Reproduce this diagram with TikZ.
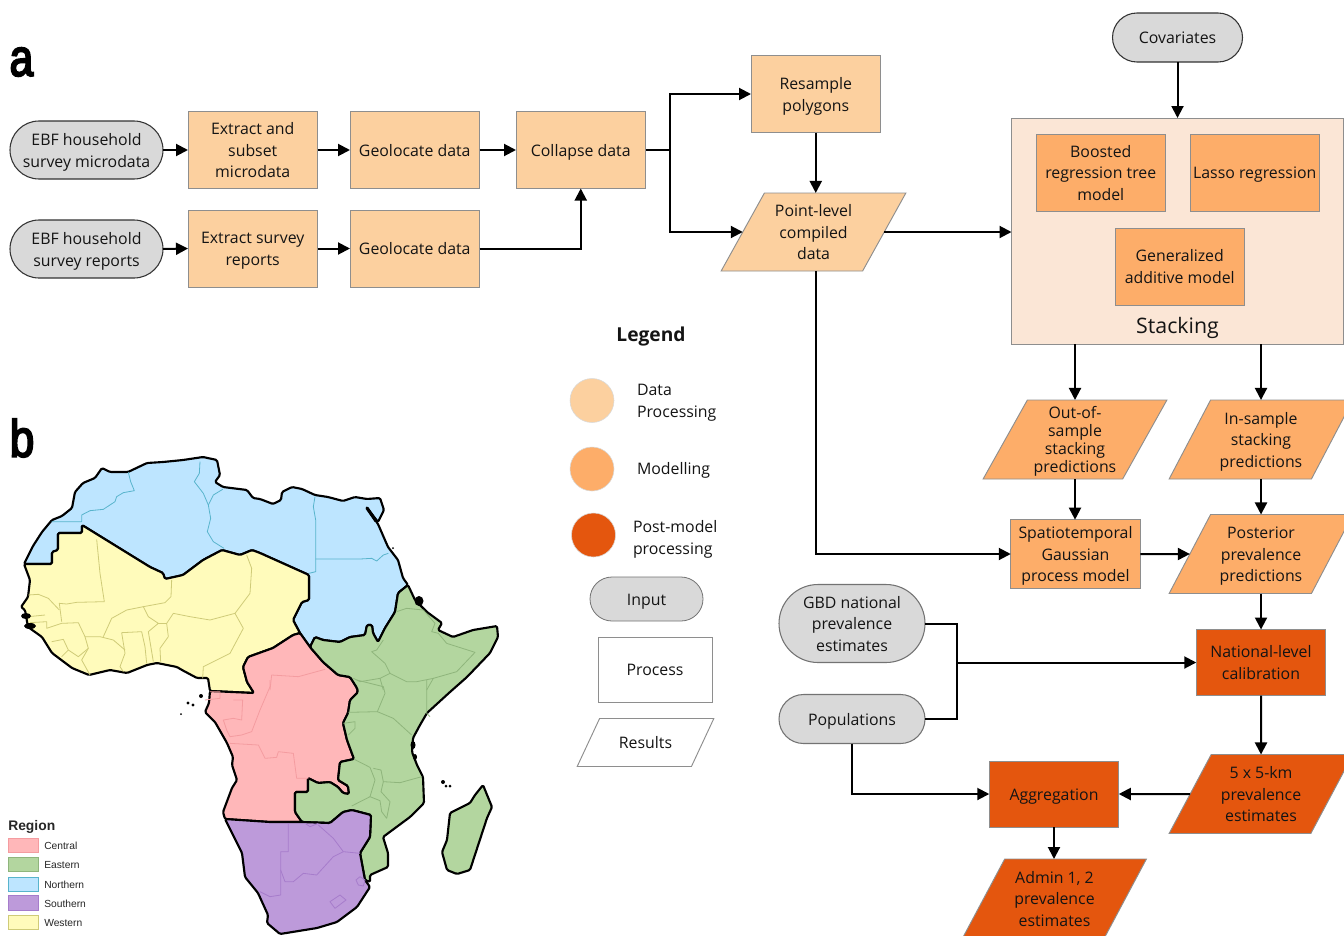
\documentclass[tikz,border=0pt]{standalone}
\usepackage{fontspec}
\setmainfont{Open Sans}
\newfontfamily\mapfont{Liberation Sans}
\newfontfamily\heavyfont[FakeBold=4]{Liberation Sans}
\usetikzlibrary{arrows.meta,shapes.geometric,shapes.misc,calc}
\definecolor{dataC}{HTML}{FCD09F}
\definecolor{modelC}{HTML}{FDAD69}
\definecolor{postC}{HTML}{E4560E}
\definecolor{stackC}{HTML}{FBE6D6}
\definecolor{pillC}{HTML}{D9D9D9}
\definecolor{edgeC}{HTML}{8E8E8E}
\definecolor{inkC}{HTML}{141414}
\definecolor{blueR}{HTML}{BDE5FF}
\definecolor{yellowR}{HTML}{FFFBBB}
\definecolor{pinkR}{HTML}{FFB7B9}
\definecolor{greenR}{HTML}{B3D69F}
\definecolor{purpleR}{HTML}{BD9ADA}
\definecolor{blueB}{HTML}{58B4CC}
\definecolor{yellowB}{HTML}{CFCB78}
\definecolor{pinkB}{HTML}{F49CA0}
\definecolor{greenB}{HTML}{8FB57C}
\definecolor{purpleB}{HTML}{A67CCB}
\newcommand\mainsz{\fontsize{11.9}{16.2}\selectfont}
\newcommand\tightsz{\fontsize{11.9}{13.5}\selectfont}
\newcommand\topstrut{\rule{0pt}{\dimexpr.9\baselineskip\relax}}
\newcommand\tline{\rule{0pt}{14.2pt}}
\newcommand\bline{\rule[-4.9pt]{0pt}{4.9pt}}
\tikzset{
  wh/.style 2 args={minimum width=#1*0.75pt,minimum height=#2*0.75pt},
  base/.style={inner sep=0pt,outer sep=0pt,align=center,font=\mainsz,text=inkC,execute at begin node=\topstrut,execute at end node=\strut},
  procbox/.style={base,rectangle,draw=edgeC,line width=0.7pt},
  pill/.style={base,rounded rectangle,draw=black!80,fill=pillC,line width=0.8pt},
  resbox/.style={base,trapezium,trapezium stretches=true,trapezium left angle=63.7,trapezium right angle=116.3,draw=edgeC,line width=0.7pt},
  legdot/.style={circle,inner sep=0pt,minimum size=33pt,draw=black!15,line width=0.4pt},
  flow/.style={-{Triangle[length=9pt,width=9pt]},line width=1.5pt,black},
  plain/.style={line width=1.5pt,black},
  coast/.style={draw=black,line width=1.6pt,line join=round,rounded corners=1pt},
  bordr/.style={line width=0.6pt,line join=round},
  dot/.style={fill=black,draw=none},
  keybox/.style={rectangle,inner sep=0pt,minimum width=22pt,minimum height=11pt,line width=0.9pt},
  keytxt/.style={font=\mapfont\fontsize{7.7}{9}\selectfont,anchor=west,inner sep=0pt,text=black!85},
}
\begin{document}
\begin{tikzpicture}[x=0.75pt,y=-0.75pt]
\useasboundingbox (0,0) rectangle (1344,935);
\fill[white] (0,0) rectangle (1344,935);

% --- panel letters
\node[font=\heavyfont\fontsize{39}{39}\selectfont,xscale=0.82,anchor=center,inner sep=0pt] (la) at (21.5,62) {a};
\node[font=\heavyfont\fontsize{39}{39}\selectfont,xscale=0.85,anchor=center,inner sep=0pt] (lb) at (22,438) {b};

% --- map fills and coasts
\path[coast,fill=blueR] (24,564)--(33,546)--(42,532)--(52,520)--(62,516)--(72,508)--(75,492)--(83,483)--(95,478)--(102,468)--(110,472)--(128,472)--(147,463)--(163,462)--(183,460)--(203,457)--(217,460)--(220,475)--(215,482)--(223,487)--(247,490)--(253,498)--(260,499)--(273,504)--(281,500)--(282,492)--(292,487)--(302,489)--(315,495)--(328,497)--(343,501)--(355,497)--(367,499)--(380,498)--(384,510)--(378,522)--(367,508)--(378,524)--(388,547)--(398,560)--(403,578)--(408,585)--(398,593)--(395,612)--(385,628)--(378,642)--(373,633)--(372,625)--(367,625)--(365,635)--(350,637)--(340,642)--(323,640)--(315,637)--(310,647)--(300,633)--(293,620)--(302,602)--(309,600)--(309,575)--(260,553)--(252,550)--(240,555)--(222,550)--(203,560)--(183,575)--(165,579)--(163,573)--(150,567)--(82,525)--(82,533)--(58,533)--(58,550)--(52,552)--(52,564)--cycle;
\path[coast,fill=yellowR] (24,564)--(52,564)--(52,552)--(58,550)--(58,533)--(82,533)--(82,525)--(150,567)--(163,573)--(165,579)--(183,575)--(203,560)--(222,550)--(240,555)--(252,550)--(260,553)--(309,575)--(309,600)--(302,602)--(293,620)--(300,633)--(293,635)--(273,648)--(248,657)--(243,667)--(247,682)--(254,693)--(210,691)--(208,678)--(197,678)--(182,670)--(177,667)--(157,663)--(147,665)--(127,673)--(110,670)--(89,675)--(72,668)--(52,653)--(42,637)--(28,627)--(25,610)--(21,607)--(28,597)--(30,580)--cycle;
\path[coast,fill=pinkR] (210,691)--(254,693)--(247,682)--(243,667)--(248,657)--(273,648)--(293,635)--(300,633)--(310,647)--(323,662)--(338,675)--(350,677)--(357,688)--(358,692)--(350,700)--(348,713)--(343,723)--(347,740)--(354,759)--(340,762)--(338,780)--(348,786)--(349,794)--(343,793)--(338,787)--(330,782)--(318,783)--(308,778)--(308,792)--(295,792)--(295,812)--(302,822)--(270,822)--(225,819)--(223,812)--(232,788)--(237,780)--(232,765)--(233,757)--(227,743)--(215,722)--(205,712)--(209,703)--cycle;
\path[coast,fill=greenR] (408,585)--(415,600)--(427,612)--(442,623)--(438,630)--(453,637)--(473,630)--(497,626)--(498,637)--(490,653)--(467,677)--(450,692)--(427,713)--(420,725)--(413,738)--(412,752)--(417,765)--(423,777)--(424,803)--(410,817)--(383,837)--(388,853)--(388,867)--(370,875)--(370,882)--(365,880)--(360,853)--(370,837)--(371,815)--(352,810)--(343,812)--(330,823)--(302,822)--(295,812)--(295,792)--(308,792)--(308,778)--(318,783)--(330,782)--(338,787)--(343,793)--(349,794)--(348,786)--(338,780)--(340,762)--(354,759)--(347,740)--(343,723)--(348,713)--(350,700)--(358,692)--(357,688)--(350,677)--(338,675)--(323,662)--(310,647)--(315,637)--(323,640)--(340,642)--(350,637)--(365,635)--(367,625)--(372,625)--(373,633)--(378,642)--(385,628)--(395,612)--(398,593)--cycle;
\path[coast,fill=purpleR] (225,819)--(270,822)--(302,822)--(330,823)--(343,812)--(352,810)--(371,815)--(370,837)--(360,853)--(365,880)--(370,887)--(357,907)--(337,922)--(317,928)--(280,934)--(267,923)--(268,915)--(258,893)--(245,877)--(242,853)--(232,833)--cycle;
\path[coast,fill=greenR] (483,785)--(492,807)--(487,818)--(470,870)--(457,874)--(447,870)--(442,852)--(447,840)--(450,813)--(470,803)--(475,795)--cycle;
\draw[line width=2.4pt,line cap=round] (367,508)--(376,521);

% --- internal borders (coordinates read from magnified views)
\begin{scope}[shift={(0,440)},x=0.25pt,y=-0.25pt]
\draw[bordr,draw=blueB] (385,97)--(392,125)--(403,152)--(370,158)--(350,170)--(345,185)--(310,208)--(270,212)--(245,225)--(245,245)--(155,245);
\draw[bordr,draw=blueB] (600,65)--(598,100)--(583,125)--(610,160)--(625,195)--(632,235)--(622,275)--(640,305)--(672,325);
\draw[bordr,draw=blueB] (625,195)--(640,165)--(668,148);
\draw[bordr,draw=yellowB] (290,298)--(300,400)--(313,485)--(230,487)--(200,492)--(178,490)--(185,545);
\draw[bordr,draw=yellowB] (85,465)--(115,463)--(145,475)--(178,510);
\draw[bordr,draw=yellowB] (515,420)--(513,470)--(495,488)--(430,500)--(380,510)--(335,535)--(310,590);
\draw[bordr,draw=yellowB] (430,500)--(445,530)--(475,550)--(445,575);
\draw[bordr,draw=yellowB] (740,345)--(755,385)--(750,460)--(705,520)--(630,540)--(570,530)--(520,520)--(500,550)--(505,590)--(480,625)--(482,665);
\draw[bordr,draw=yellowB] (475,550)--(500,550);
\draw[bordr,draw=yellowB] (705,520)--(730,565)--(690,640)--(650,660)--(610,680)--(608,715);
\draw[bordr,draw=yellowB] (365,578)--(425,575)--(435,620)--(440,670);
\draw[bordr,draw=yellowB] (365,578)--(375,640)--(360,680)--(370,695);
\draw[bordr,draw=yellowB] (445,575)--(460,665);
\draw[bordr,draw=yellowB] (85,530)--(135,525);
\draw[bordr,draw=yellowB] (90,548)--(140,545)--(140,565)--(185,550)--(235,548)--(255,590)--(265,625)--(245,660)--(270,705);
\draw[bordr,draw=yellowB] (255,590)--(300,590)--(340,600)--(375,630);
\draw[bordr,draw=yellowB] (155,605)--(190,598)--(205,630)--(185,650);
\draw[bordr,draw=yellowB] (205,630)--(235,650)--(265,625);
\end{scope}
\begin{scope}[shift={(260,440)},x=0.25pt,y=-0.25pt]
\draw[bordr,draw=blueB] (165,170)--(160,200)--(167,240)--(167,395)--(147,400);
\draw[bordr,draw=blueB] (167,357)--(300,357)--(335,355)--(350,363)--(370,345)--(385,340);
\draw[bordr,draw=greenB] (410,515)--(440,505)--(490,510)--(525,550)--(515,575)--(535,580)--(560,610)--(645,637)--(590,695)--(520,715)--(500,750);
\draw[bordr,draw=greenB] (370,600)--(350,630)--(335,635)--(375,670)--(390,700)--(360,715)--(370,750);
\draw[bordr,draw=greenB] (360,715)--(300,725)--(280,715);
\draw[bordr,draw=greenB] (390,700)--(440,725)--(470,725)--(520,715);
\draw[bordr,draw=pinkB] (35,705)--(30,750);
\draw[bordr,draw=pinkB] (35,705)--(115,710)--(195,688);
\end{scope}
\begin{scope}[shift={(170,680)},x=0.25pt,y=-0.25pt]
\draw[bordr,draw=greenB] (560,0)--(640,20)--(645,40)--(622,95)--(535,97);
\draw[bordr,draw=greenB] (622,95)--(670,115)--(725,165);
\draw[bordr,draw=greenB] (770,0)--(770,100)--(780,110);
\draw[bordr,draw=greenB] (520,130)--(555,125)--(555,145)--(535,165);
\draw[bordr,draw=greenB] (553,238)--(600,262)--(615,300)--(600,350)--(545,378);
\draw[bordr,draw=greenB] (755,290)--(690,308)--(640,305)--(633,270)--(610,265);
\draw[bordr,draw=greenB] (600,350)--(630,362)--(635,395)--(650,415)--(660,365)--(633,335)--(640,305);
\draw[bordr,draw=pinkB] (105,60)--(150,55)--(150,35)--(120,35);
\draw[bordr,draw=pinkB] (190,60)--(218,60)--(215,120)--(190,115)--(160,120)--(170,150)--(180,170)--(215,165)--(245,155)--(270,90)--(300,20)--(300,0);
\draw[bordr,draw=pinkB] (180,190)--(265,195)--(285,235)--(320,232)--(325,215)--(370,220)--(380,295)--(415,295);
\draw[bordr,draw=purpleB] (355,430)--(355,515)--(332,515)--(332,645)--(300,650)--(270,635);
\draw[bordr,draw=purpleB] (332,570)--(345,605)--(370,605)--(400,580)--(440,585)--(490,530)--(520,515)--(490,475)--(445,435);
\draw[bordr,draw=purpleB] (405,430)--(420,440)--(445,430);
\draw[bordr,draw=purpleB] (520,515)--(570,520);
\draw[bordr,draw=purpleB] (558,600)--(570,590)--(585,600)--(580,618)--(565,615)--cycle;
\draw[bordr,draw=purpleB] (480,665)--(510,645)--(528,660)--(495,685)--cycle;
\end{scope}

% --- islands and coastal specks
\fill[dot] (26,616) ellipse (5 and 3);
\fill[dot] (30,626) ellipse (6 and 3);
\fill[dot] (419,601) ellipse (4.5 and 5);
\fill[dot] (413,745) ellipse (2.5 and 4);
\fill[dot] (415,757) ellipse (2 and 3);
\fill[dot] (201,696) circle (2);
\fill[dot] (193,705) circle (1.6);
\fill[dot] (188,703) circle (1.6);
\fill[dot] (181,714) circle (1);
\fill[dot] (443,782) circle (2);
\fill[dot] (446,786) circle (1.5);
\fill[dot] (450,786) circle (1.5);
\fill[dot] (393,548) circle (1);

% --- map key
\node[font=\mapfont\bfseries\fontsize{10.4}{12}\selectfont,anchor=west,inner sep=0pt,text=black!85] (keyhead) at (8,827) {Region};
\node[keybox,fill=pinkR,draw=pinkB] (k1) at (23.5,845.5) {};
\node[keybox,fill=greenR,draw=greenB] (k2) at (23.5,864.5) {};
\node[keybox,fill=blueR,draw=blueB] (k3) at (23.5,884.5) {};
\node[keybox,fill=purpleR,draw=purpleB] (k4) at (23.5,903) {};
\node[keybox,fill=yellowR,draw=yellowB] (k5) at (23.5,922.5) {};
\node[keytxt] (t1) at (44,845.5) {Central};
\node[keytxt] (t2) at (44,865) {Eastern};
\node[keytxt] (t3) at (44,884.5) {Northern};
\node[keytxt] (t4) at (44,903.5) {Southern};
\node[keytxt] (t5) at (44,923) {Western};

% --- flowchart nodes
\node[pill,wh={153}{58}] (ebf1) at (86.5,150) {\tline EBF household\\\bline survey microdata};
\node[pill,wh={153}{58}] (ebf2) at (86.5,249) {\tline EBF household\\\bline survey reports};
\node[procbox,fill=dataC,wh={129.5}{77}] (ext1) at (252.75,150) {\tline Extract and\\subset\\\bline microdata};
\node[procbox,fill=dataC,wh={129.5}{77}] (geo1) at (414.75,150) {Geolocate data};
\node[procbox,fill=dataC,wh={129.5}{77}] (col) at (580.75,150) {Collapse data};
\node[procbox,fill=dataC,wh={129.5}{77}] (ext2) at (252.75,248.5) {\tline Extract survey\\\bline reports};
\node[procbox,fill=dataC,wh={129.5}{77}] (geo2) at (414.75,248.5) {Geolocate data};
\node[procbox,fill=dataC,wh={129.5}{77}] (res) at (815.75,94) {\tline Resample\\\bline polygons};
\node[resbox,fill=dataC,wh={185}{78}] (pts) at (813.5,232) {\tline Point-level\\compiled\\\bline data};
\node[pill,wh={130}{49}] (cov) at (1177.5,37.5) {Covariates};
\node[procbox,fill=stackC,wh={332}{226}] (stk) at (1177.5,231) {};
\node[procbox,fill=modelC,wh={129.5}{77}] (brt) at (1100.75,172.5) {\tline Boosted\\regression tree\\\bline model};
\node[procbox,fill=modelC,wh={129.5}{77}] (las) at (1254.75,172.5) {Lasso regression};
\node[procbox,fill=modelC,wh={129.5}{77}] (gam) at (1179.75,266.5) {\tline Generalized\\\bline additive model};
\node[base,font=\fontsize{16}{20}\selectfont] (stl) at (1177.5,325.5) {Stacking};
\node[resbox,fill=modelC,wh={184}{79},font=\tightsz] (oos) at (1075,439.5) {\rule{0pt}{13.5pt}Out-of-\\sample\\stacking\\\rule[-4.2pt]{0pt}{4.2pt}predictions};
\node[resbox,fill=modelC,wh={184}{79}] (ins) at (1261,439.5) {\tline In-sample\\stacking\\\bline predictions};
\node[procbox,fill=modelC,wh={129.5}{66}] (stg) at (1075.5,554) {\tline Spatiotemporal\\Gaussian\\\bline process model};
\node[resbox,fill=modelC,wh={184}{79}] (pos) at (1261,554) {\tline Posterior\\prevalence\\\bline predictions};
\node[pill,wh={146}{78},draw=black!55] (gbd) at (852,623.5) {\tline GBD national\\prevalence\\\bline estimates};
\node[pill,wh={146}{49},draw=black!55] (pop) at (852,719) {Populations};
\node[procbox,fill=postC,wh={129.5}{66}] (nat) at (1261,662.5) {\tline National-level\\\bline calibration};
\node[resbox,fill=postC,wh={184}{79}] (fiv) at (1261,794) {\tline 5 x 5-km\\prevalence\\\bline estimates};
\node[procbox,fill=postC,wh={129.5}{66}] (agg) at (1054,794) {Aggregation};
\node[resbox,fill=postC,wh={184}{79}] (adm) at (1054.5,898.5) {\tline Admin 1, 2\\prevalence\\\bline estimates};

% --- legend
\node[base,font=\bfseries\fontsize{14.4}{18}\selectfont] (leg) at (651,334) {Legend};
\node[legdot,fill=dataC] (d1) at (592,400.5) {};
\node[legdot,fill=modelC] (d2) at (592,469) {};
\node[legdot,fill=postC] (d3) at (593.5,535) {};
\node[base,anchor=west,align=left] (l1) at (637,400) {\tline Data\\\bline Processing};
\node[base,anchor=west,align=left] (l2) at (637,468) {Modelling};
\node[base,anchor=west,align=left] (l3) at (633,537) {\tline Post-model\\\bline processing};
\node[pill,wh={113}{44},draw=black!55,line width=0.6pt] (l4) at (646.5,599) {Input};
\node[procbox,wh={114}{65}] (l5) at (655,669.5) {Process};
\node[resbox,wh={137}{48},trapezium left angle=63.4,trapezium right angle=116.6] (l6) at (645.5,742.5) {Results};

% --- connectors
\draw[flow] (ebf1.east)--(ext1.west);
\draw[flow] (ext1.east)--(geo1.west);
\draw[flow] (geo1.east)--(col.west);
\draw[flow] (ebf2.east)--(ext2.west);
\draw[flow] (ext2.east)--(geo2.west);
\draw[flow] (geo2.east) -| (col.south);
\coordinate (j1) at ($(col.east)+(24,0)$);
\draw[flow] (col.east)--(j1) |- (res.west);
\draw[flow] (j1) |- (pts.west);
\draw[flow] (res.south)--(res.south |- pts.north);
\draw[flow] (pts.east)--(stk.west |- pts.east);
\draw[flow] (cov.south)--(cov.south |- stk.north);
\draw[flow] (oos.north |- stk.south)--(oos.north);
\draw[flow] (ins.north |- stk.south)--(ins.north);
\draw[flow] (oos.south)--(stg.north -| oos.south);
\draw[flow] (ins.south)--(pos.north);
\draw[flow] (res.south |- pts.south) |- (stg.west);
\draw[flow] (stg.east)--(pos.west);
\draw[flow] (pos.south)--(nat.north -| pos.south);
\coordinate (j2) at ($(gbd.east |- nat.west)+(32,0)$);
\draw[plain] (gbd.east) -| (j2);
\draw[plain] (pop.east) -| (j2);
\draw[flow] (j2)--(nat.west);
\draw[flow] (nat.south)--(fiv.north);
\draw[flow] (fiv.west)--(agg.east);
\draw[flow] (pop.south) |- (agg.west);
\draw[flow] (agg.south)--(adm.north -| agg.south);
\end{tikzpicture}
\end{document}
